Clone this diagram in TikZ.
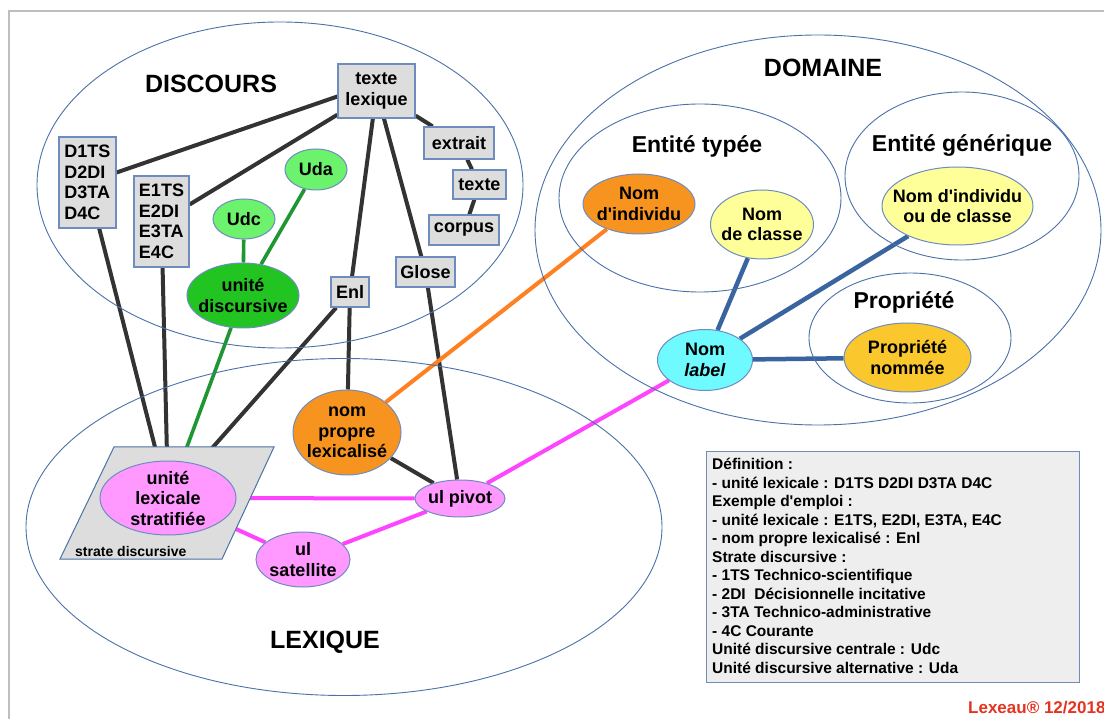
\documentclass[tikz,border=0pt]{standalone}
\usepackage{fontspec}
\setmainfont{Liberation Sans}
\usetikzlibrary{shapes.geometric}
\pgfdeclarelayer{bg}
\pgfdeclarelayer{edges}
\pgfsetlayers{bg,edges,main}
\definecolor{zoneblue}{RGB}{74,114,168}
\definecolor{boxblue}{RGB}{110,140,190}
\definecolor{boxgray}{RGB}{221,221,221}
\definecolor{linegray}{RGB}{51,51,51}
\definecolor{lgreen}{RGB}{108,242,108}
\definecolor{dgreen}{RGB}{34,196,34}
\definecolor{greenline}{RGB}{30,150,50}
\definecolor{pinkfill}{RGB}{255,153,255}
\definecolor{pinkline}{RGB}{255,68,255}
\definecolor{orangefill}{RGB}{247,148,32}
\definecolor{orangeline}{RGB}{255,128,32}
\definecolor{yellowfill}{RGB}{255,255,153}
\definecolor{goldfill}{RGB}{250,200,45}
\definecolor{cyanfill}{RGB}{110,250,255}
\definecolor{blueline}{RGB}{58,100,160}
\definecolor{leggray}{RGB}{238,238,238}
\definecolor{framegray}{RGB}{190,190,190}
\definecolor{lexred}{RGB}{228,52,32}
\newcommand\mynodefont{\fontsize{18}{20.5}\selectfont\bfseries}
\newcommand\myq{\textquotesingle}
\begin{document}
\begin{tikzpicture}[x=1pt,y=-1pt,
  zone/.style={ellipse, draw=zoneblue, line width=0.9pt, inner sep=0pt},
  box/.style={rectangle, draw=boxblue, line width=1.3pt, fill=boxgray, inner sep=0pt, align=center, font=\mynodefont},
  lbox/.style={box, align=left},
  oval/.style={ellipse, draw=boxblue, line width=1pt, inner sep=0pt},
  ovtext/.style={font=\mynodefont, align=center, inner sep=0pt},
  heading/.style={font=\fontsize{25}{28}\selectfont\bfseries, anchor=base, inner sep=0pt},
  subheading/.style={font=\fontsize{23}{26}\selectfont\bfseries, anchor=base, inner sep=0pt},
  legline/.style={font=\fontsize{15.5}{18.5}\selectfont\bfseries, anchor=base west, inner sep=0pt},
  blk/.style={draw=linegray, line width=4pt},
  grn/.style={draw=greenline, line width=3.6pt},
  pnk/.style={draw=pinkline, line width=4pt},
  org/.style={draw=orangeline, line width=4pt},
  blu/.style={draw=blueline, line width=4.5pt},
]
\useasboundingbox (0,0) rectangle (1104,719);
\begin{pgfonlayer}{bg}
\fill[white] (0,0) rectangle (1104,719);
\end{pgfonlayer}
\draw[framegray, line width=1.2pt] (1104,11) -- (9,11) -- (9,719);

% zones
\node[zone, minimum width=486pt, minimum height=326pt] (zdisc) at (280,185) {};
\node[zone, minimum width=636pt, minimum height=337pt] (zlex) at (344,527) {};
\node[zone, minimum width=566pt, minimum height=390pt] (zdom) at (818,230) {};
\node[zone, minimum width=282pt, minimum height=188pt] (ztyp) at (700,198) {};
\node[zone, minimum width=234pt, minimum height=168pt] (zgen) at (962,176) {};
\node[zone, minimum width=202pt, minimum height=130pt] (zprop) at (910,338) {};

\node[heading] (hdisc) at (211,93) {DISCOURS};
\node[heading] (hdom) at (823,77) {DOMAINE};
\node[heading] (hlex) at (325,648) {LEXIQUE};
\node[subheading] (htyp) at (697,153) {Entité typée};
\node[subheading] (hgen) at (962,152) {Entité générique};
\node[subheading] (hprop) at (904,309) {Propriété};

% strate discursive
\draw[draw=zoneblue, line width=1pt, fill=boxgray] (114,447) -- (274,447) -- (222,559) -- (60,559) -- cycle;
\node[anchor=base west, inner sep=0pt, font=\fontsize{14}{16}\selectfont\bfseries] (strate) at (75,556) {strate discursive};

% boxes
\node[box, minimum width=77pt, minimum height=54pt] (txlex) at (376.5,91) {texte\\lexique};
\node[lbox, minimum width=57pt, minimum height=91pt] (d1) at (87.5,182.5) {D1TS\\D2DI\\D3TA\\D4C};
\node[lbox, minimum width=55pt, minimum height=91pt] (e1) at (161.5,221.5) {E1TS\\E2DI\\E3TA\\E4C};
\node[box, minimum width=70pt, minimum height=32pt] (extrait) at (459,143) {extrait};
\node[box, minimum width=53pt, minimum height=29pt] (texte) at (479.5,184.5) {texte};
\node[box, minimum width=70pt, minimum height=30pt] (corpus) at (464,230) {corpus};
\node[box, minimum width=59pt, minimum height=30pt] (glose) at (425.5,272) {Glose};
\node[box, minimum width=38pt, minimum height=30pt] (enl) at (350,292) {Enl};

% ovals
\node[oval, fill=lgreen, minimum width=62pt, minimum height=40pt, label={[ovtext]center:Udc}] (udc) at (244,219) {};
\node[oval, fill=lgreen, minimum width=62pt, minimum height=41pt, label={[ovtext]center:Uda}] (uda) at (316,169.5) {};
\node[oval, fill=dgreen, minimum width=112pt, minimum height=65pt, label={[ovtext]center:unité\\discursive}] (udisc) at (243,295.5) {};
\node[oval, fill=pinkfill, minimum width=136pt, minimum height=74pt, label={[ovtext]center:unité\\lexicale\\stratifiée}] (ulstrat) at (168,498) {};
\node[oval, fill=orangefill, minimum width=108pt, minimum height=85pt, label={[ovtext]center:nom\\propre\\lexicalisé}] (npl) at (347,432.5) {};
\node[oval, fill=pinkfill, minimum width=90pt, minimum height=37pt, label={[ovtext]center:ul pivot}] (pivot) at (460,498.5) {};
\node[oval, fill=pinkfill, minimum width=94pt, minimum height=55pt, label={[ovtext]center:ul\\satellite}] (sat) at (303,559.5) {};
\node[oval, fill=orangefill, minimum width=112pt, minimum height=60pt, label={[ovtext]center:Nom\\d\myq individu}] (nomind) at (639,204) {};
\node[oval, fill=yellowfill, minimum width=103pt, minimum height=69pt, label={[ovtext]center:Nom\\de classe}] (nomcl) at (762,224.5) {};
\node[oval, fill=yellowfill, minimum width=151pt, minimum height=78pt, label={[ovtext]center:Nom d\myq individu\\ou de classe}] (nomindcl) at (957.5,206) {};
\node[oval, fill=cyanfill, minimum width=95pt, minimum height=61pt, label={[ovtext]center:Nom\\\textit{label}}] (nomlabel) at (705,360) {};
\node[oval, fill=goldfill, minimum width=127pt, minimum height=69pt, label={[ovtext]center:Propriété\\nommée}] (propnom) at (907.5,357.5) {};

% connectors
\begin{pgfonlayer}{edges}
\draw[blk] (txlex.188) -- (d1);
\draw[blk] (txlex) -- (e1);
\draw[blk] (txlex) -- (enl);
\draw[blk] (txlex) -- (glose);
\draw[blk] (txlex) -- (extrait);
\draw[blk] (extrait) -- (texte);
\draw[blk] (texte) -- (corpus);
\draw[blk] (d1) -- (ulstrat);
\draw[blk] (e1) -- (ulstrat);
\draw[blk] (enl) -- (ulstrat);
\draw[blk] (enl) -- (npl);
\draw[blk] (npl) -- (pivot);
\draw[blk] (glose) -- (pivot);
\draw[grn] (udc) -- (udisc);
\draw[grn] (uda) -- (udisc);
\draw[grn] (udisc) -- (ulstrat);
\draw[org] (npl) -- (nomind);
\draw[pnk] (ulstrat) -- (pivot);
\draw[pnk] (ulstrat) -- (sat);
\draw[pnk] (sat) -- (pivot);
\draw[pnk] (pivot) -- (nomlabel);
\draw[blu] (nomlabel) -- (nomcl);
\draw[blu] (nomlabel) -- (nomindcl);
\draw[blu] (nomlabel) -- (propnom);
\end{pgfonlayer}

% legend
\node[draw=boxblue, line width=1.3pt, fill=leggray, minimum width=373pt, minimum height=231pt, anchor=north west, inner sep=0pt] (legend) at (706,451) {};
\foreach \t [count=\i] in {{Définition :},
  {- unité lexicale : D1TS D2DI D3TA D4C},
  {Exemple d\myq emploi :},
  {- unité lexicale : E1TS, E2DI, E3TA, E4C},
  {- nom propre lexicalisé : Enl},
  {Strate discursive :},
  {- 1TS Technico-scientifique},
  {- 2DI\ \ Décisionnelle incitative},
  {- 3TA Technico-administrative},
  {- 4C Courante},
  {Unité discursive centrale : Udc},
  {Unité discursive alternative : Uda}}
  \node[legline] (leg\i) at (712,{451+18.5*\i}) {\t};

\node[anchor=base west, inner sep=0pt, font=\fontsize{17}{20}\selectfont\bfseries, text=lexred] (lexeau) at (968,713) {Lexeau® 12/2018};
\end{tikzpicture}
\end{document}
